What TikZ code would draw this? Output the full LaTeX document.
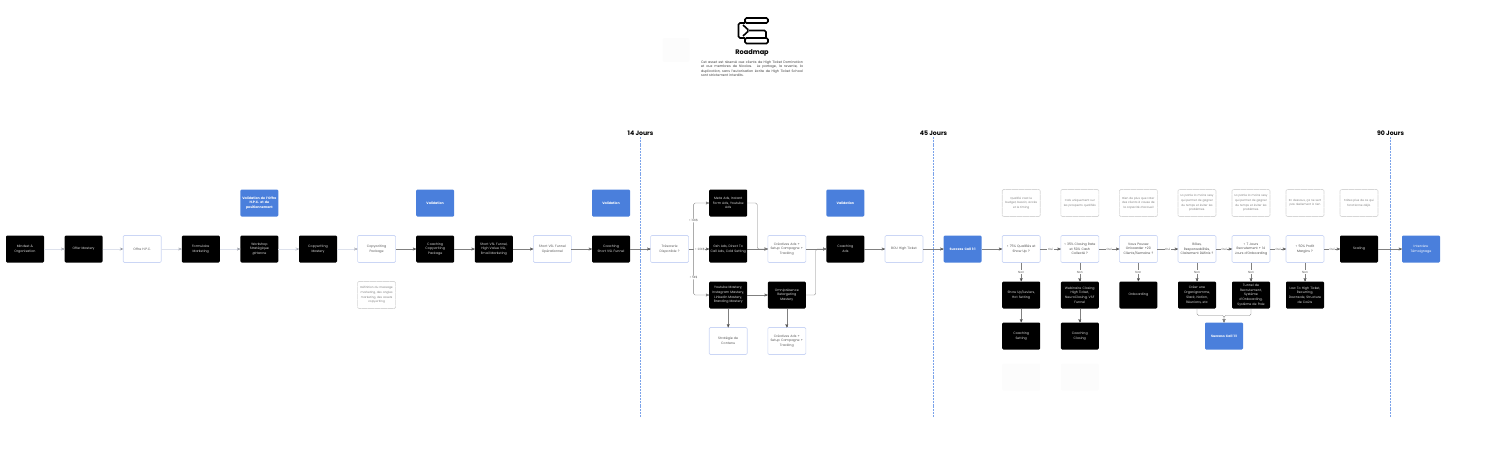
\documentclass[tikz,border=0pt]{standalone}
\usepackage{xcolor}
\usepackage{fontspec}
\setmainfont{Poppins}
\definecolor{roadblue}{HTML}{4A7FDC}
\definecolor{edgeblue}{HTML}{CBD6F5}
\definecolor{dashblue}{HTML}{7BA3EA}
\definecolor{notegray}{HTML}{D6D6D6}
\definecolor{faintline}{HTML}{DDE1EC}
\usetikzlibrary{positioning, arrows}

\begin{document}
\begin{tikzpicture}
[x=1pt, y=1pt,
 ->,
 >=stealth',
 node distance=19pt and 20.6pt,
 every node/.style={align=center, outer sep=0pt, font=\fontsize{3.25}{4.7}\selectfont,
   execute at begin node={\hyphenpenalty=10000 \exhyphenpenalty=10000 }},
 box/.style={rounded corners=1.2pt, minimum height=27pt, text width=37pt, inner sep=0.5pt},
 dark/.style={box, fill=black, text=white!85!black},
 task/.style={box, draw=edgeblue, line width=0.6pt, fill=white, text=black!65},
 check/.style={task, text=black!70},
 valid/.style={box, fill=roadblue, text=white, font=\fontsize{3.25}{4.7}\bfseries\selectfont},
 note/.style={box, draw=notegray, line width=0.6pt, dash pattern=on 1pt off 0.3pt, fill=white, text=black!50,
   font=\fontsize{2.85}{4.6}\selectfont},
 ghost/.style={box, fill=black!1},
 flow/.style={line width=0.35pt, draw=black!50},
 soft/.style={line width=0.35pt, draw=faintline},
 lab/.style={fill=white, inner sep=0.6pt, text=black!65, font=\fontsize{3}{4}\selectfont},
 day/.style={font=\fontsize{6.2}{7}\bfseries\selectfont, inner sep=1pt},
 limit/.style={-, line width=0.9pt, draw=dashblue, dash pattern=on 2pt off 0.9pt},
]

\useasboundingbox (0,0) rectangle (1500,-456);

% first row
\node[dark] (mindset) at (25,-249) {Mindset \&\\Organisation};
\node[dark, right=of mindset] (offer) {Offer Mastery};
\node[task, right=of offer] (hpc) {Offre H.P.C.};
\node[dark, right=of hpc] (form) {Formulaire\\Marketing};
\node[dark, right=of form] (workshop) {Workshop\\Stratégique\\@Hanne};
\node[dark, right=of workshop] (copym) {Copywriting\\Mastery};
\node[task, right=of copym] (copyp) {Copywriting\\Package};
\node[dark, right=of copyp] (coachcopy) {Coaching\\Copywriting\\Package};
\node[dark, right=of coachcopy] (vsl) {Short VSL Funnel,\\High Value VSL,\\Email Marketing};
\node[task, right=of vsl] (vslop) {Short VSL Funnel\\Opérationnel};
\node[dark, right=of vslop] (coachvsl) {Coaching\\Short VSL Funnel};
\node[task, right=of coachvsl] (treso) {Trésorerie\\Disponible ?};
\node[dark, right=of treso] (gsh) {Gsh Ads, Direct To\\Call Ads, Cold Setting};
\node[task, right=of gsh] (crea) {Créatives Ads +\\Setup Campagne +\\Tracking};
\node[dark, right=of crea] (ads) {Coaching\\Ads};
\node[task, right=of ads] (bou) {BOU High Ticket};
\node[valid, right=of bou] (call1) {Success Call 1:1};
\node[check, right=of call1] (qualif) {< 75\% Qualifiés et\\Show Up ?};
\node[check, right=of qualif] (closing) {< 35\% Closing Rate\\et 50\% Cash\\Collecté ?};
\node[check, right=of closing] (onb) {Vous Pouvez\\Onboarder +20\\Clients/Semaine ?};
\node[check, right=of onb] (roles) {Rôles,\\Responsabilités,\\Clairement Définis ?};
\node[check, right=16pt of roles] (recrut) {< 7 Jours\\Recrutement + 14\\Jours d'Onboarding};
\node[check, right=16pt of recrut] (marge) {< 50\% Profit\\Margins ?};
\node[dark, right=16pt of marge] (scaling) {Scaling};
\node[valid, right=24pt of scaling, font=\fontsize{3.25}{4.7}\selectfont] (interview) {Interview\\Témoignage};

% validations and notes above
\node[valid, above=of workshop] (val0) {Validation de l'Offre\\H.P.C. et du\\positionnement};
\node[valid, above=of coachcopy] (val1) {Validation};
\node[valid, above=of coachvsl] (val2) {Validation};
\node[valid, above=of ads] (val3) {Validation};
\node[dark, above=of gsh] (meta) {Meta Ads, Instant\\Form Ads, Youtube\\Ads};
\node[note, below=of copyp] (defmsg) {Définition du message\\marketing, des angles\\marketing, des assets\\copywriting};
\node[note, above=of qualif] (n1) {Qualifié c'est le\\budget, besoin, accès\\et le timing};
\node[note, above=of closing] (n2) {Cals uniquement sur\\les prospects qualifiés};
\node[note, above=of onb] (n3) {Bien de plus que rater\\des clients à cause de\\la capacité d'accueil};
\node[note, above=of roles] (n4) {La partie la moins sexy\\qui permet de gagner\\du temps et éviter les\\problèmes.};
\node[note, above=of recrut] (n5) {La partie la moins sexy\\qui permet de gagner\\du temps et éviter les\\problèmes.};
\node[note, above=of marge] (n6) {En dessous, ça ne sert\\pas réellement à rien};
\node[note, above=of scaling] (n7) {Faites plus de ce qui\\fonctionne déjà.};

% branches below
\node[dark, below=of gsh] (yt) {Youtube Mastery,\\Instagram Mastery,\\Linkedin Mastery,\\Branding Mastery};
\node[dark, below=of crea] (omni) {Omniprésence\\Retargeting\\Mastery};
\node[task, below=of yt] (contenu) {Stratégie de\\Contenu};
\node[task, below=of omni] (crea2) {Créatives Ads +\\Setup Campagne +\\Tracking};
\node[dark, below=of qualif] (showup) {Show Up/Leviers,\\Hot Setting};
\node[dark, below=of closing] (webi) {Webinaire Closing\\High Ticket,\\NeuroClosing, VSF\\Funnel};
\node[dark, below=of onb] (onboard) {Onboarding};
\node[dark, below=of roles] (orga) {Créer une\\Organigramme,\\Slack, Notion,\\Réunions, etc};
\node[dark, below=of recrut] (tunnel) {Tunnel de\\Recrutement,\\Système\\d'Onboarding,\\Système de Paie};
\node[dark, below=of marge] (low) {Low To High Ticket,\\Recurring,\\Downsale, Structure\\de Coûts};
\node[dark, below=14pt of showup] (csetting) {Coaching\\Setting};
\node[dark, below=14pt of webi] (cclosing) {Coaching\\Closing};
\node[valid, below=14pt of orga, xshift=27pt] (call2) {Success Call 1:1};
\node[ghost, below=14pt of csetting] (ghost1) {};
\node[ghost, below=14pt of cclosing] (ghost2) {};

% title
\node[font=\fontsize{6.6}{8}\bfseries\selectfont, inner sep=0pt] (title) at (752,-53) {Roadmap};
\node[below=4.5pt of title, text width=102pt, inner sep=0pt, text=black!75, align=justify,
      font=\fontsize{3.35}{4.4}\selectfont] (intro)
  {Cet asset est réservé aux clients de High Ticket Domination et aux membres de Nicolas. Le partage, la revente, la duplication, sans l'autorisation écrite de High Ticket School sont strictement interdits.};
\node[fill=black!1, rounded corners=2pt, minimum width=27pt, minimum height=24pt] (faintlogo) at (676,-50) {};

% icon
\draw[-, line width=1.6pt, rounded corners=1.6pt]
  (768,-18) -- (745,-18) -- (745,-23) -- (768,-23) -- cycle;
\draw[-, line width=1.6pt, rounded corners=1.6pt]
  (768,-38) -- (745,-38) -- (745,-43.5) -- (768,-43.5) -- cycle;
\draw[-, line width=1.6pt, rounded corners=1.6pt]
  (745,-23) -- (738.5,-23) -- (738.5,-38) -- (745,-38);
\draw[-, line width=1.6pt, rounded corners=1.6pt]
  (743,-25) -- (749,-30.5) -- (743,-36) (749,-30.5) -- (766,-30.5) -- (766,-38);

% day limits
\node[day] (j14) at (640.5,-133.5) {14 Jours};
\node[day] (j45) at (933.5,-133.5) {45 Jours};
\node[day] (j90) at (1390.5,-133.5) {90 Jours};
\coordinate (e14) at (640.5,-417);
\coordinate (e45) at (933.5,-417);
\coordinate (e90) at (1390.5,-417);
\draw[limit] (j14.south) -- (e14);
\draw[limit] (j45.south) -- (e45);
\draw[limit] (j90.south) -- (e90);

% connectors
\draw[soft]
(mindset)  edge  (offer)
(offer)    edge  (hpc)
(hpc)      edge  (form)
(form)     edge  (workshop)
(workshop) edge  (copym)
(copym)    edge  (copyp);

\coordinate[right=5pt of treso.east] (fork);
\draw[flow]
(copyp)     edge  (coachcopy)
(coachcopy) edge  (vsl)
(vsl)       edge  (vslop)
(vslop)     edge  (coachvsl)
(coachvsl)  edge  (treso)
(treso)     edge  node[lab, pos=0.55]{< 20K\$} (gsh)
(gsh)       edge  (crea)
(crea)      edge  (ads)
(yt)        edge  (omni)
(yt)        edge  (contenu)
(omni)      edge  (crea2)
(ads)       edge  (bou)
(bou)       edge  (call1)
(call1)     edge  (qualif)
(qualif)    edge  node[lab]{Oui} (closing)
(closing)   edge  node[lab]{Oui} (onb)
(onb)       edge  node[lab]{Oui} (roles)
(roles)     edge  node[lab]{Oui} (recrut)
(recrut)    edge  node[lab]{Oui} (marge)
(marge)     edge  node[lab]{Oui} (scaling)
(scaling)   edge  (interview)
(qualif)    edge  node[lab]{Non} (showup)
(closing)   edge  node[lab]{Non} (webi)
(onb)       edge  node[lab]{Non} (onboard)
(roles)     edge  node[lab]{Non} (orga)
(recrut)    edge  node[lab]{Non} (tunnel)
(marge)     edge  node[lab]{Non} (low)
(showup)    edge  (csetting)
(webi)      edge  (cclosing);

\draw[flow, rounded corners=1.5pt] (fork) |- node[lab, pos=0.31]{< 10K\$} (meta);
\draw[flow, rounded corners=1.5pt] (fork) |- node[lab, pos=0.31]{> 5K\$} (yt);
\draw[flow, rounded corners=1.5pt] (meta.east) -- ++(10,0) |- (crea.west);
\draw[flow, rounded corners=1.5pt] (omni.east) -- ++(10,0) |- (ads.west);
\draw[flow, rounded corners=1.5pt] (orga.south) -- ++(0,-7) -| (call2.north);
\draw[flow, rounded corners=1.5pt] (tunnel.south) -- ++(0,-7) -| (call2.north);
\end{tikzpicture}
\end{document}
